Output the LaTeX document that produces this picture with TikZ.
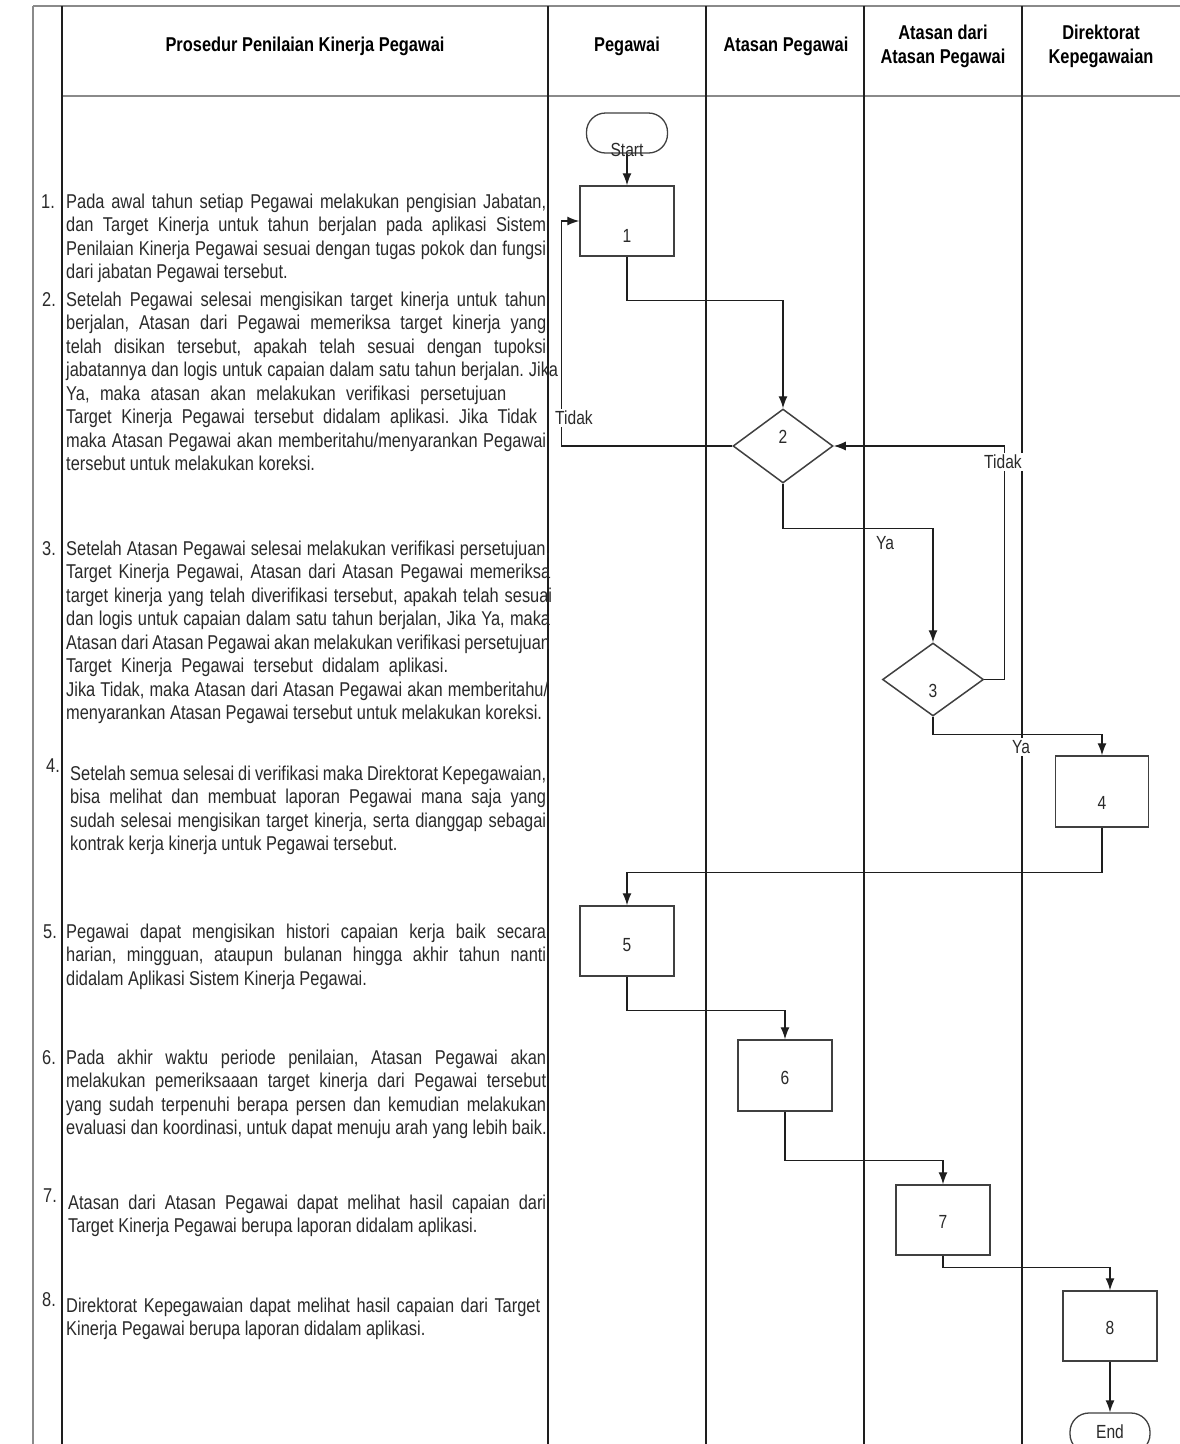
\documentclass[tikz,border=0pt]{standalone}
\usepackage{fontspec}
\setmainfont[FakeStretch=0.82]{Liberation Sans}
\usetikzlibrary{arrows.meta,shapes.geometric}
\definecolor{txt}{HTML}{2A2A2A}
\definecolor{ln}{HTML}{1E1E1E}
\definecolor{frm}{HTML}{8A8A8A}
\newcommand{\JL}[2]{\makebox[#1pt][s]{\spaceskip=0.278em plus 1em minus 0.12em\xspaceskip=\spaceskip #2}}
\frenchspacing
\begin{document}
\begin{tikzpicture}[x=1pt,y=-1pt,
  frame/.style={draw=frm,line width=2.6pt},
  col/.style={draw=ln,line width=1.1pt},
  box/.style={draw=ln!85,line width=1.5pt,fill=white,rectangle,minimum width=94pt,minimum height=70pt,inner sep=0pt},
  dec/.style={draw=ln!85,line width=1.5pt,fill=white,diamond,minimum width=100pt,minimum height=74pt,inner sep=0pt},
  term/.style={draw=ln!85,line width=1.3pt,fill=white,rectangle,rounded corners=19pt,minimum width=81pt,minimum height=40pt,inner sep=0pt},
  lbl/.style={font=\fontsize{19}{22}\selectfont,text=txt,inner sep=0pt},
  yn/.style={font=\fontsize{19}{22}\selectfont,text=txt,fill=white,inner sep=2.5pt},
  arr/.style={draw=ln,line width=1.3pt,-{Latex[length=12pt,width=9pt]}},
  hdr/.style={font=\bfseries\fontsize{20}{24}\selectfont,text=black,align=center,inner sep=0pt},
  num/.style={font=\fontsize{20}{23.5}\selectfont,text=txt,anchor=base,inner sep=0pt},
  item/.style={font=\fontsize{20}{23.5}\selectfont,text=txt,anchor=base west,align=flush left,text width=560pt,inner sep=0pt},
]
\useasboundingbox (0,0) rectangle (1180,1444);
\clip (0,0) rectangle (1180,1444);
\fill[white] (0,0) rectangle (1180,1444);

% frame
\draw[frame] (33,6) -- (1180,6);
\draw[frame] (33,6) -- (33,1444);
\draw[frame] (62,96) -- (1180,96);
\draw[col] (62,6) -- (62,1444);
\draw[col] (548,6) -- (548,1444);
\draw[col] (706,6) -- (706,1444);
\draw[col] (864,6) -- (864,1444);
\draw[col] (1022,6) -- (1022,1444);

% headers
\node[hdr] (h1) at (305,46) {Prosedur Penilaian Kinerja Pegawai};
\node[hdr] (h2) at (627,46) {Pegawai};
\node[hdr] (h3) at (786,46) {Atasan Pegawai};
\node[hdr] (h4) at (943,46) {Atasan dari\\Atasan Pegawai};
\node[hdr] (h5) at (1101,46) {Direktorat\\Kepegawaian};

% procedure text
\node[num] (n1) at (48,208) {1.};
\node[item] (t1) at (66,208) {%
\JL{480}{Pada awal tahun setiap Pegawai melakukan pengisian Jabatan,}\\
\JL{480}{dan Target Kinerja untuk tahun berjalan pada aplikasi Sistem}\\
\JL{480}{Penilaian Kinerja Pegawai sesuai dengan tugas pokok dan fungsi}\\
dari jabatan Pegawai tersebut.};

\node[num] (n2) at (49,306) {2.};
\node[item] (t2) at (66,306) {%
\JL{480}{Setelah Pegawai selesai mengisikan target kinerja untuk tahun}\\
\JL{480}{berjalan, Atasan dari Pegawai memeriksa target kinerja yang}\\
\JL{480}{telah disikan tersebut, apakah telah sesuai dengan tupoksi}\\
\JL{492}{jabatannya dan logis untuk capaian dalam satu tahun berjalan. Jika}\\
\JL{440}{Ya, maka atasan akan melakukan verifikasi persetujuan}\\
\JL{471}{Target Kinerja Pegawai tersebut didalam aplikasi. Jika Tidak}\\
\JL{480}{maka Atasan Pegawai akan memberitahu/menyarankan Pegawai}\\
tersebut untuk melakukan koreksi.};

\node[num] (n3) at (49,555) {3.};
\node[item] (t3) at (66,555) {%
\JL{484}{Setelah Atasan Pegawai selesai melakukan verifikasi persetujuan,}\\
\JL{484}{Target Kinerja Pegawai, Atasan dari Atasan Pegawai memeriksa}\\
\JL{486}{target kinerja yang telah diverifikasi tersebut, apakah telah sesuai}\\
\JL{484}{dan logis untuk capaian dalam satu tahun berjalan, Jika Ya, maka}\\
\JL{484}{Atasan dari Atasan Pegawai akan melakukan verifikasi persetujuan}\\
\JL{382}{Target Kinerja Pegawai tersebut didalam aplikasi.}\\
\JL{482}{Jika Tidak, maka Atasan dari Atasan Pegawai akan memberitahu/}\\
menyarankan Atasan Pegawai tersebut untuk melakukan koreksi.};

\node[num] (n4) at (53,772) {4.};
\node[item] (t4) at (70,780) {%
\JL{476}{Setelah semua selesai di verifikasi maka Direktorat Kepegawaian,}\\
\JL{476}{bisa melihat dan membuat laporan Pegawai mana saja yang}\\
\JL{476}{sudah selesai mengisikan target kinerja, serta dianggap sebagai}\\
kontrak kerja kinerja untuk Pegawai tersebut.};

\node[num] (n5) at (50,938) {5.};
\node[item] (t5) at (66,938) {%
\JL{480}{Pegawai dapat mengisikan histori capaian kerja baik secara}\\
\JL{480}{harian, mingguan, ataupun bulanan hingga akhir tahun nanti}\\
didalam Aplikasi Sistem Kinerja Pegawai.};

\node[num] (n6) at (49,1064) {6.};
\node[item] (t6) at (66,1064) {%
\JL{480}{Pada akhir waktu periode penilaian, Atasan Pegawai akan}\\
\JL{480}{melakukan pemeriksaaan target kinerja dari Pegawai tersebut}\\
\JL{480}{yang sudah terpenuhi berapa persen dan kemudian melakukan}\\
evaluasi dan koordinasi, untuk dapat menuju arah yang lebih baik.};

\node[num] (n7) at (50,1202) {7.};
\node[item] (t7) at (68,1209) {%
\JL{478}{Atasan dari Atasan Pegawai dapat melihat hasil capaian dari}\\
Target Kinerja Pegawai berupa laporan didalam aplikasi.};

\node[num] (n8) at (49,1306) {8.};
\node[item] (t8) at (66,1312) {%
\JL{474}{Direktorat Kepegawaian dapat melihat hasil capaian dari Target}\\
Kinerja Pegawai berupa laporan didalam aplikasi.};

% flow shapes
\node[term] (start) at (627,133) {};
\node[box] (b1) at (627,221) {};
\node[dec] (d2) at (783,446) {};
\node[dec,minimum width=101pt,minimum height=73pt] (d3) at (933,679.5) {};
\node[box,minimum width=93pt,minimum height=71pt] (b4) at (1102,791.5) {};
\node[box] (b5) at (627,941) {};
\node[box,minimum height=71pt] (b6) at (785,1075.5) {};
\node[box] (b7) at (943,1220) {};
\node[box] (b8) at (1110,1326) {};
\node[term,minimum width=80pt] (end) at (1110,1433) {};

% connectors
\draw[arr] (start.south) -- (b1.north);
\draw[arr] (b1.south) -- ++(0,44) -| (d2.north);
\draw[arr] (d2.west) -- ++(-171,0) |- (b1.west);
\draw[arr] (d3.east) -- ++(20,0) |- (d2.east);
\draw[arr] (d2.south) -- ++(0,45) -| (d3.north);
\draw[arr] (d3.south) -- ++(0,18) -| (b4.north);
\draw[arr] (b4.south) -- ++(0,45) -| (b5.north);
\draw[arr] (b5.south) -- ++(0,34) -| (b6.north);
\draw[arr] (b6.south) -- ++(0,49) -| (b7.north);
\draw[arr] (b7.south) -- ++(0,12) -| (b8.north);
\draw[arr] (b8.south) -- (end.north);

% shape labels
\node[lbl] (ls) at (627,150) {Start};
\node[lbl] (l1) at (627,236) {1};
\node[lbl] (l2) at (783,437) {2};
\node[lbl] (l3) at (933,691) {3};
\node[lbl] (l4) at (1102,803) {4};
\node[lbl] (l5) at (627,945) {5};
\node[lbl] (l6) at (785,1078) {6};
\node[lbl] (l7) at (943,1222) {7};
\node[lbl] (l8) at (1110,1328) {8};
\node[lbl] (le) at (1110,1432) {End};

% branch labels
\node[yn] (tidak1) at (574,418) {Tidak};
\node[yn] (tidak2) at (1003,462) {Tidak};
\node[yn] (ya1) at (885,543) {Ya};
\node[yn] (ya2) at (1021,747) {Ya};
\end{tikzpicture}
\end{document}
